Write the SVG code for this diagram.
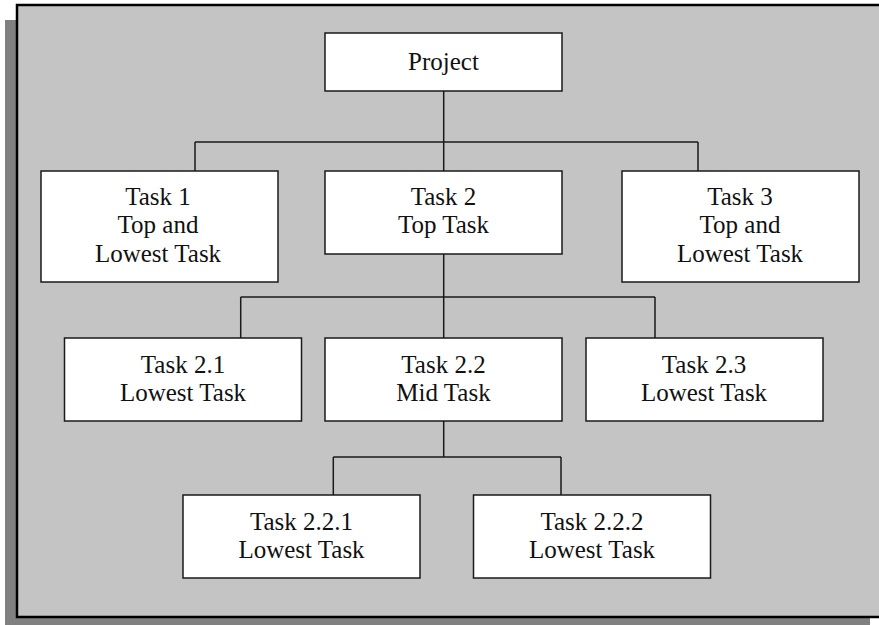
<svg xmlns="http://www.w3.org/2000/svg" width="879" height="625" viewBox="0 0 879 625">
<style>
.box{fill:#ffffff;stroke:#1a1a1a;stroke-width:1.5}
.t{font-family:'Liberation Serif','Times New Roman','DejaVu Serif',serif;font-size:25px;fill:#111;text-anchor:middle}
.c{fill:none;stroke:#1a1a1a;stroke-width:1.5}
</style>
<rect width="879" height="625" fill="#ffffff"/>
<rect id="shadow" x="5" y="20" width="865" height="610" fill="#808080"/>
<rect id="frame" x="17" y="5" width="875" height="612" fill="#c4c4c4" stroke="#000" stroke-width="2.5"/>
<g id="connectors" class="c">
<path d="M443.7 91V171"/>
<path d="M195 142H698M195 142V171M698 142V171"/>
<path d="M443.7 254V338"/>
<path d="M240.7 297H655M240.7 297V338M655 297V338"/>
<path d="M443.7 421V457"/>
<path d="M333.3 457H561M333.3 457V495M561 457V495"/>
</g>
<g id="project">
<rect class="box" x="325" y="33" width="237" height="58"/>
<text class="t" x="443.5" y="69.5">Project</text>
</g>
<g id="task1">
<rect class="box" x="41" y="171" width="237" height="111"/>
<text class="t" x="158" y="205">Task 1</text>
<text class="t" x="158" y="233">Top and</text>
<text class="t" x="158" y="261.5">Lowest Task</text>
</g>
<g id="task2">
<rect class="box" x="325" y="171" width="237" height="83"/>
<text class="t" x="443.5" y="205">Task 2</text>
<text class="t" x="443.5" y="233">Top Task</text>
</g>
<g id="task3">
<rect class="box" x="622" y="171" width="237" height="111"/>
<text class="t" x="740" y="205">Task 3</text>
<text class="t" x="740" y="233">Top and</text>
<text class="t" x="740" y="261.5">Lowest Task</text>
</g>
<g id="task2_1">
<rect class="box" x="64.5" y="338" width="237" height="83"/>
<text class="t" x="183" y="372.5">Task 2.1</text>
<text class="t" x="183" y="400.5">Lowest Task</text>
</g>
<g id="task2_2">
<rect class="box" x="325" y="338" width="237" height="83"/>
<text class="t" x="443.5" y="372.5">Task 2.2</text>
<text class="t" x="443.5" y="400.5">Mid Task</text>
</g>
<g id="task2_3">
<rect class="box" x="586" y="338" width="237" height="83"/>
<text class="t" x="704" y="372.5">Task 2.3</text>
<text class="t" x="704" y="400.5">Lowest Task</text>
</g>
<g id="task2_2_1">
<rect class="box" x="183" y="495" width="237" height="83"/>
<text class="t" x="301.5" y="530">Task 2.2.1</text>
<text class="t" x="301.5" y="558">Lowest Task</text>
</g>
<g id="task2_2_2">
<rect class="box" x="473.5" y="495" width="237" height="83"/>
<text class="t" x="592" y="530">Task 2.2.2</text>
<text class="t" x="592" y="558">Lowest Task</text>
</g>
</svg>
